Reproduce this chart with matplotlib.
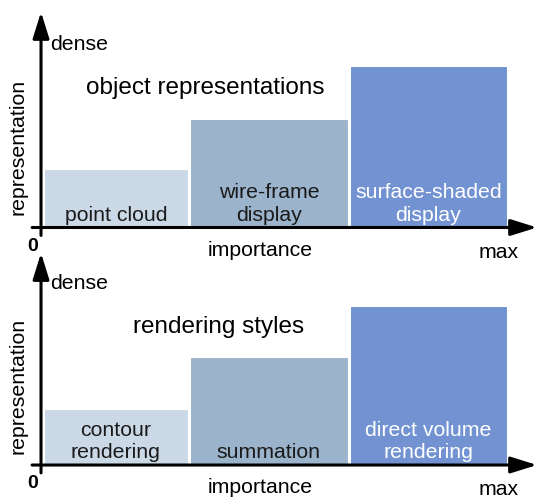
import matplotlib
matplotlib.use('Agg')
import matplotlib.pyplot as plt

plt.rcParams['font.family'] = 'Liberation Sans'
plt.rcParams['font.size'] = 15.3

# importance bands (x) and representation density (y), both as axis fractions
bar_left = [0.003, 0.299, 0.62]
bar_width = [0.296, 0.321, 0.322]
bar_colors = ['#cbd9e7', '#9bb4cc', '#7292d2']
label_colors = ['#1a1a1a', '#1a1a1a', 'white']

object_heights = [0.274, 0.51, 0.752]
object_labels = ['point cloud', 'wire-frame\ndisplay', 'surface-shaded\ndisplay']
render_heights = [0.271, 0.512, 0.757]
render_labels = ['contour\nrendering', 'summation', 'direct volume\nrendering']


def draw_panel(ax, heights, labels, title, title_y, dense_y):
    ax.set_xlim(0, 1)
    ax.set_ylim(0, 1)
    ax.axis('off')
    ax.bar(bar_left, heights, width=bar_width, align='edge', color=bar_colors,
           edgecolor='white', linewidth=2.2, zorder=1)
    for left, w, lab, c in zip(bar_left, bar_width, labels, label_colors):
        ax.text(left + w / 2, 0.012, lab, ha='center', va='bottom', color=c,
                linespacing=1.25, zorder=3)

    arrow = dict(arrowstyle='-|>,head_length=16,head_width=5', mutation_scale=1,
                 lw=2.2, color='black', shrinkA=0, shrinkB=0)
    ax.annotate('', xy=(0, 1), xytext=(0, -0.037), arrowprops=arrow,
                annotation_clip=False, zorder=4)
    ax.annotate('', xy=(1, 0), xytext=(-0.018, 0), arrowprops=arrow,
                annotation_clip=False, zorder=4)

    ax.text(0.018, dense_y, 'dense', ha='left', va='baseline')
    ax.text(-0.046, 0.375, 'representation', rotation=90, ha='center', va='center')
    ax.text(title[1], title_y, title[0], ha='center', va='baseline', fontsize=17.5)
    ax.text(-0.016, -0.11, '0', ha='center', va='baseline', fontweight='bold', fontsize=14)
    ax.text(0.4415, -0.132, 'importance', ha='center', va='baseline')
    ax.text(0.922, -0.142, 'max', ha='center', va='baseline')


fig = plt.figure(figsize=(5.39, 4.99), dpi=100)
ax1 = fig.add_axes([0.0761, 0.5441, 0.9202, 0.4319])
ax2 = fig.add_axes([0.0761, 0.0681, 0.9202, 0.4248])

draw_panel(ax1, object_heights, object_labels, ('object representations', 0.331), 0.62, 0.822)
draw_panel(ax2, render_heights, render_labels, ('rendering styles', 0.357), 0.623, 0.83)

fig.savefig('out.png', dpi=100)
